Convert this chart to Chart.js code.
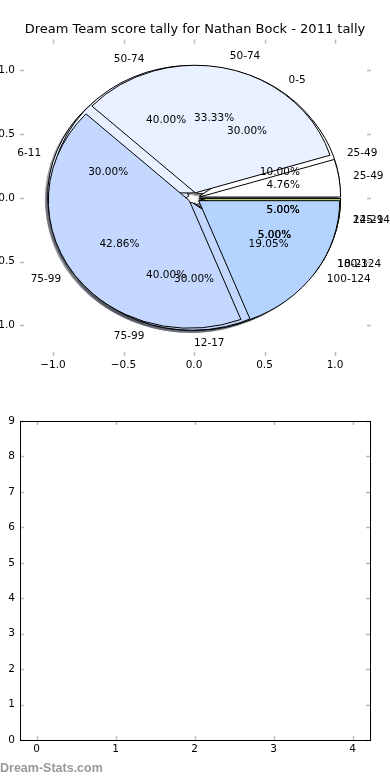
<!DOCTYPE html>
<html>
<head>
<meta charset="utf-8">
<script src="https://cdn.jsdelivr.net/npm/chart.js@4.4.1/dist/chart.umd.min.js"></script>
<style>
  body { margin: 0; background: #fff; width: 390px; height: 780px; overflow: hidden; position: relative; }
  canvas { position: absolute; left: 0; }
  #pie { top: 0; }
  #empty { top: 390px; }
  #mark { position: absolute; left: 0; top: 761px; font: bold 12.5px "Liberation Sans", Arial, sans-serif; color: #999; }
</style>
</head>
<body>
<canvas id="pie" width="390" height="390"></canvas>
<canvas id="empty" width="390" height="390"></canvas>
<div id="mark">Dream-Stats.com</div>
<script>
const TITLE = 'Dream Team score tally for Nathan Bock - 2011 tally';

// three pies drawn over each other, first one at the bottom
const youthLabels = ['0-5', '6-11', '12-17', '18-23', '24-29'];
const youthValues = [6, 6, 6, 1, 1];
const youthColors = ['#f2f6ff', '#dce8ff', '#c8dcff', '#a8ccff', '#c8e678'];

const seniorLabels = ['25-49', '50-74', '75-99', '100-124', '125-149'];
const seniorValues = [2, 8, 8, 1, 1];
const seniorColors = ['#ffffff', '#e9f0ff', '#c4d8ff', '#b4d4ff', '#c8e678'];

const tallyLabels = ['25-49', '50-74', '75-99', '100-124'];
const tallyValues = [1, 7, 9, 4];
const tallyColors = ['#ffffff', '#e9f0ff', '#c4d8ff', '#b4d4ff'];

const pieTicks = [-1, -0.5, 0, 0.5, 1];
const emptyXTicks = [0, 1, 2, 3, 4];
const emptyYTicks = [0, 1, 2, 3, 4, 5, 6, 7, 8, 9];

const EXPLODE = 0.04, PCT_DIST = 0.6, LABEL_DIST = 1.1, SHADOW = 0.02;
const FONT = { family: 'DejaVu Sans', size: 10.5 };

Chart.defaults.font.family = 'DejaVu Sans';
Chart.defaults.color = '#000';

const pies = [
  { labels: youthLabels, values: youthValues, colors: youthColors },
  { labels: seniorLabels, values: seniorValues, colors: seniorColors },
  { labels: tallyLabels, values: tallyValues, colors: tallyColors }
];

function shade(hex) {
  const n = parseInt(hex.slice(1), 16);
  const r = (n >> 16) & 255, g = (n >> 8) & 255, b = n & 255;
  return `rgba(${Math.round(r * 0.3)},${Math.round(g * 0.3)},${Math.round(b * 0.3)},0.5)`;
}

const piePlugin = {
  id: 'pies',
  afterDatasetsDraw(chart) {
    const { ctx, chartArea: a, scales: { x, y } } = chart;
    const px = v => x.getPixelForValue(v), py = v => y.getPixelForValue(v);
    const rx = px(1) - px(0), ry = py(0) - py(1);

    const wedges = pies.map(p => {
      const total = p.values.reduce((s, v) => s + v, 0);
      let acc = 0;
      return p.values.map((v, i) => {
        const t1 = acc / total * 2 * Math.PI;
        acc += v;
        const t2 = acc / total * 2 * Math.PI;
        const tm = (t1 + t2) / 2;
        return {
          t1, t2, tm,
          cx: EXPLODE * Math.cos(tm), cy: EXPLODE * Math.sin(tm),
          color: p.colors[i], label: p.labels[i],
          pct: (100 * v / total).toFixed(2) + '%'
        };
      });
    }).flat();

    const path = (w, ox, oy) => {
      const cx = px(w.cx + ox), cy = py(w.cy + oy);
      ctx.beginPath();
      ctx.moveTo(cx, cy);
      ctx.ellipse(cx, cy, rx, ry, 0, -w.t1, -w.t2, true);
      ctx.closePath();
    };

    ctx.save();
    ctx.beginPath();
    ctx.rect(a.left, a.top, a.right - a.left, a.bottom - a.top);
    ctx.clip();
    // shadows sit under every wedge
    wedges.forEach(w => {
      path(w, -SHADOW, -SHADOW);
      ctx.fillStyle = shade(w.color);
      ctx.fill();
    });
    wedges.forEach(w => {
      path(w, 0, 0);
      ctx.fillStyle = w.color;
      ctx.fill();
      ctx.strokeStyle = '#000';
      ctx.lineWidth = 1;
      ctx.stroke();
    });
    ctx.restore();

    ctx.save();
    ctx.font = `${FONT.size}px "${FONT.family}"`;
    ctx.fillStyle = '#000';
    ctx.textBaseline = 'middle';
    wedges.forEach(w => {
      const c = Math.cos(w.tm), s = Math.sin(w.tm);
      ctx.textAlign = 'center';
      ctx.fillText(w.pct, px(w.cx + PCT_DIST * c), py(w.cy + PCT_DIST * s));
      const lx = w.cx + LABEL_DIST * c;
      ctx.textAlign = lx > -1e-9 ? 'left' : 'right';
      ctx.fillText(w.label, px(lx), py(w.cy + LABEL_DIST * s));
    });
    ctx.restore();
  }
};

// matplotlib style ticks pointing into the plot on all four sides
const innerTicks = {
  id: 'innerTicks',
  afterDraw(chart, args, opts) {
    const { ctx, chartArea: a, scales: { x, y } } = chart;
    ctx.save();
    ctx.strokeStyle = '#bbbbbb';
    ctx.lineWidth = 1.5;
    const line = (x1, y1, x2, y2) => { ctx.beginPath(); ctx.moveTo(x1, y1); ctx.lineTo(x2, y2); ctx.stroke(); };
    x.ticks.forEach(t => {
      const p = Math.round(x.getPixelForValue(t.value)) + 0.5;
      line(p, a.top, p, a.top + 4);
      line(p, a.bottom, p, a.bottom - 4);
    });
    y.ticks.forEach(t => {
      const p = Math.round(y.getPixelForValue(t.value)) + 0.5;
      line(a.left, p, a.left + 4, p);
      line(a.right, p, a.right - 4, p);
    });
    if (opts.frame) {
      ctx.strokeStyle = '#000';
      ctx.lineWidth = 1;
      ctx.strokeRect(Math.round(a.left) + 0.5, Math.round(a.top) + 0.5,
        Math.round(a.right - a.left), Math.round(a.bottom - a.top));
    }
    ctx.restore();
  }
};

const fmt = v => v.toFixed(1).replace('-', '\u2212');

function axis(min, max, ticks, extra) {
  return Object.assign({
    type: 'linear', min, max,
    grid: { display: false, drawTicks: false },
    border: { display: false },
    afterBuildTicks: s => { s.ticks = ticks.map(v => ({ value: v })); }
  }, extra);
}

// empty axis on the right, only to keep the margin so the title stays centred
const rightGap = w => ({
  type: 'linear', position: 'right', display: true,
  grid: { display: false, drawTicks: false }, border: { display: false },
  ticks: { display: false },
  afterFit: s => { s.width = w; }
});

new Chart(document.getElementById('pie'), {
  type: 'scatter',
  data: { datasets: [{ data: [] }] },
  options: {
    responsive: false, animation: false, devicePixelRatio: 1,
    plugins: {
      legend: { display: false }, tooltip: { enabled: false },
      title: { display: true, text: TITLE, color: '#000',
        font: { family: 'DejaVu Sans', size: 13, weight: 'normal' }, padding: { top: 22, bottom: 2 } },
      innerTicks: { frame: false }
    },
    scales: {
      x: axis(-1.234, 1.255, pieTicks, {
        ticks: { font: FONT, color: '#000', padding: 3, maxRotation: 0, autoSkip: false, callback: fmt },
        afterFit: s => { s.height = 34; }
      }),
      y: axis(-1.24, 1.24, pieTicks, {
        ticks: { font: FONT, color: '#000', padding: 5, autoSkip: false, callback: fmt },
        afterFit: s => { s.width = 20; }
      }),
      gap: rightGap(19)
    }
  },
  plugins: [piePlugin, innerTicks]
});

new Chart(document.getElementById('empty'), {
  type: 'scatter',
  data: { datasets: [{ data: [] }] },
  options: {
    responsive: false, animation: false, devicePixelRatio: 1,
    layout: { padding: { top: 31 } },
    plugins: { legend: { display: false }, tooltip: { enabled: false }, innerTicks: { frame: true } },
    scales: {
      x: axis(-0.21, 4.22, emptyXTicks, {
        ticks: { font: FONT, color: '#000', padding: 3, maxRotation: 0, autoSkip: false },
        afterFit: s => { s.height = 40; }
      }),
      y: axis(0, 9, emptyYTicks, {
        ticks: { font: FONT, color: '#000', padding: 5, autoSkip: false },
        afterFit: s => { s.width = 20; }
      }),
      gap: rightGap(20)
    }
  },
  plugins: [innerTicks]
});
</script>
</body>
</html>
